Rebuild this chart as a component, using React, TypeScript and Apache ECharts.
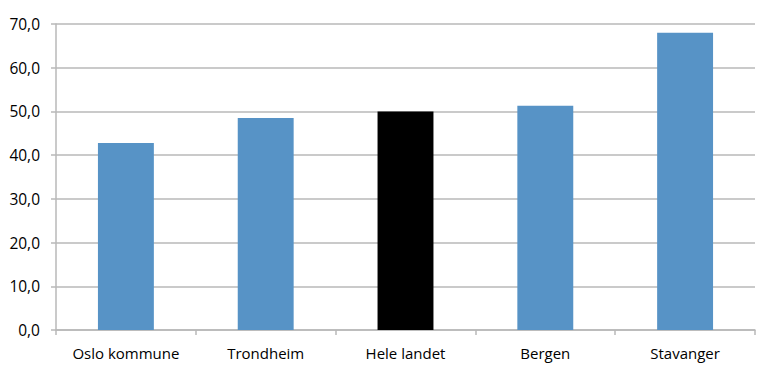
import React, { useEffect, useRef } from "react";
import * as echarts from "echarts";

const categories = ["Oslo kommune", "Trondheim", "Hele landet", "Bergen", "Stavanger"];
const values = [42.8, 48.5, 50.0, 51.3, 68.0];
const barColors = ["#5793c6", "#5793c6", "#000000", "#5793c6", "#5793c6"];

export default function App() {
  const ref = useRef<HTMLDivElement>(null);
  useEffect(() => {
    if (!ref.current) return;
    const chart = echarts.init(ref.current, undefined, { renderer: "svg" });
    chart.setOption({
      animation: false,
      grid: { left: 56, right: 20, top: 24, bottom: 54 },
      xAxis: {
        type: "category",
        data: categories,
        axisLine: { show: true, lineStyle: { color: "#b8b8b8", width: 1.5 } },
        axisTick: { show: true, length: 5, lineStyle: { color: "#b8b8b8", width: 1.5 } },
        axisLabel: {
          color: "#000",
          fontFamily: "Open Sans",
          fontSize: 15,
          margin: 15,
        },
      },
      yAxis: {
        type: "value",
        min: 0,
        max: 70,
        interval: 10,
        axisLine: { show: true, lineStyle: { color: "#b8b8b8", width: 1.5 } },
        axisTick: { show: true, length: 5, lineStyle: { color: "#b8b8b8", width: 1.5 } },
        splitLine: { show: true, lineStyle: { color: "#b8b8b8", width: 1.5 } },
        axisLabel: {
          color: "#000",
          fontFamily: "Open Sans",
          fontSize: 15.5,
          margin: 16,
          formatter: (v: number) => v.toFixed(1).replace(".", ","),
        },
      },
      series: [
        {
          type: "bar",
          barWidth: "40%",
          data: values.map((v, i) => ({ value: v, itemStyle: { color: barColors[i] } })),
        },
      ],
    });
    return () => chart.dispose();
  }, []);
  return <div ref={ref} style={{ width: 775, height: 384, margin: -8 }} />;
}
